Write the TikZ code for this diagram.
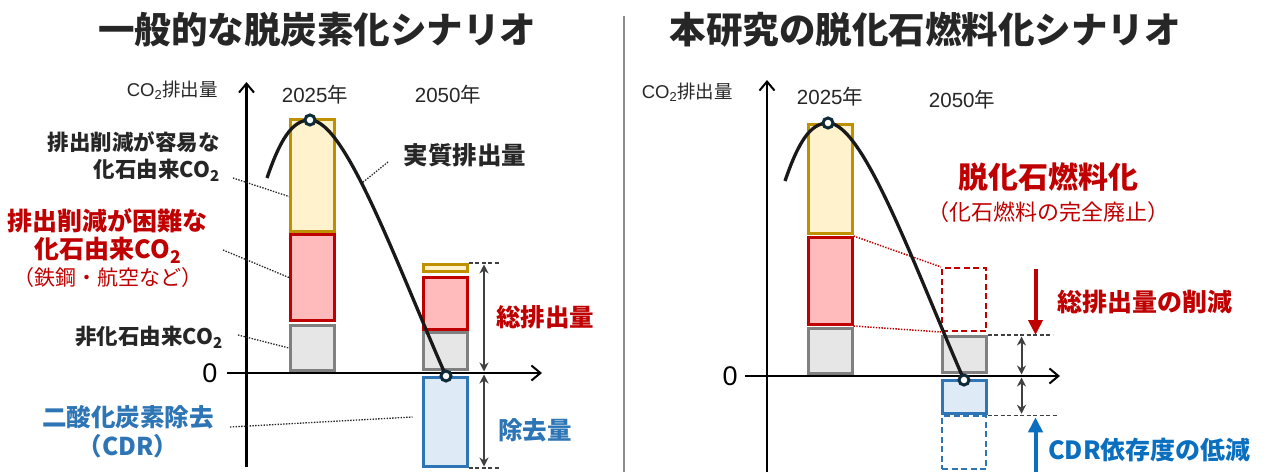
\documentclass[tikz,border=0pt]{standalone}
\usepackage{fontspec}
\setmainfont{Noto Sans CJK JP}
\newfontfamily\latinfont{Liberation Sans}
\usetikzlibrary{arrows.meta}
\definecolor{easyline}{HTML}{BF9000}
\definecolor{easyfill}{HTML}{FFF2CC}
\definecolor{hardline}{HTML}{C00000}
\definecolor{hardfill}{HTML}{FFBBBB}
\definecolor{nonfosline}{HTML}{808080}
\definecolor{nonfosfill}{HTML}{E6E6E6}
\definecolor{cdrline}{HTML}{2E75B6}
\definecolor{cdrfill}{HTML}{DEEBF7}
\definecolor{cdrblue}{HTML}{0B6FBF}
\definecolor{inktext}{HTML}{262626}
\definecolor{markline}{HTML}{0E2B3A}
\definecolor{spangray}{HTML}{404040}
\tikzset{x=1pt, y=-1pt,
    bar/.style={
        draw,
        line width=3pt,
        minimum width=44pt,
        inner sep=0pt},
    easybar/.style={bar, draw=easyline, fill=easyfill},
    hardbar/.style={bar, draw=hardline, fill=hardfill},
    nonfosbar/.style={bar, draw=nonfosline, fill=nonfosfill},
    cdrbar/.style={bar, draw=cdrline, fill=cdrfill},
    cutbar/.style={bar, line width=2pt, dash pattern=on 6pt off 3.5pt},
    axis/.style={
        line width=2.5pt,
        -{Straight Barb[length=9pt,width=15pt,line width=2pt]}},
    netline/.style={line width=3.3pt, black!90},
    dot/.style={
        circle,
        draw=markline,
        fill=white,
        line width=3pt,
        minimum size=10pt,
        inner sep=0pt},
    leader/.style={inktext, line width=1.3pt, dash pattern=on 1.4pt off 1.4pt},
    guide/.style={spangray, line width=1.4pt, dash pattern=on 4pt off 2.5pt},
    span/.style={
        spangray,
        line width=2pt,
        {Stealth[length=9pt,width=9pt]}-{Stealth[length=9pt,width=9pt]},
        shorten <=1.5pt, shorten >=1.5pt},
    cutarrow/.style={line width=4pt, -{Triangle[length=15pt,width=14pt]}},
    divider/.style={black!45, line width=2pt},
    txt/.style={inner sep=0pt, text=inktext},
    title/.style={txt, font=\fontsize{36.5}{40}\selectfont\bfseries},
    unitlbl/.style={txt, font=\fontsize{18.5}{22}\selectfont},
    yearlbl/.style={txt, font=\fontsize{20.5}{24}\selectfont},
    zerolbl/.style={txt, text=black, font=\fontsize{27}{30}\selectfont},
    darklbl/.style={txt, font=\fontsize{21.5}{27}\selectfont\bfseries},
    netlbl/.style={txt, font=\fontsize{24.5}{30}\selectfont\bfseries},
    hardlbl/.style={txt, text=hardline, align=center, font=\fontsize{25}{28}\selectfont\bfseries},
    hardnote/.style={txt, text=hardline, font=\fontsize{21}{26}\selectfont},
    cdrlbl/.style={txt, text=cdrline, align=center, font=\fontsize{24.5}{29}\selectfont\bfseries},
    redlbl/.style={txt, text=hardline, font=\fontsize{24.5}{30}\selectfont\bfseries},
    bluelbl/.style={txt, text=cdrblue, font=\fontsize{25}{30}\selectfont\bfseries},
    redbig/.style={txt, text=hardline, font=\fontsize{30}{36}\selectfont\bfseries},
    rednote/.style={txt, text=hardline, font=\fontsize{22}{26}\selectfont}}

\begin{document}
\begin{tikzpicture}
    \useasboundingbox[fill=white] (0,0) rectangle (1269,472);

    % titles
    \node[title] (ltitle) at (317,30) {一般的な脱炭素化シナリオ};
    \node[title] (rtitle) at (925,30) {本研究の脱化石燃料化シナリオ};
    \draw[divider] (624,16) -- (624,472);

    % ---- left: general scenario ----
    \coordinate (lo) at (246.5,373);
    \draw[axis] (227,373) -- (542,373);
    \draw[axis] (246.5,467) -- (246.5,82);
    \node[zerolbl] (lzero) at (210,373) {\latinfont 0};
    \node[unitlbl, anchor=east] (lunit) at (218,90) {{\latinfont CO\textsubscript{2}}排出量};
    \node[yearlbl] (lyearold) at (315,95) {{\latinfont 2025}年};
    \node[yearlbl] (lyearnew) at (448,95) {{\latinfont 2050}年};

    \node[easybar, minimum height=112] (oldeasy) at (312.5,175.5) {};
    \node[hardbar, minimum height=86] (oldhard) at (312.5,277.5) {};
    \node[nonfosbar, minimum height=45] (oldnonfos) at (312.5,348) {};
    \node[easybar, minimum height=7] (neweasy) at (445,268) {};
    \node[hardbar, minimum height=52] (newhard) at (445,303.5) {};
    \node[nonfosbar, minimum height=36.5] (newnonfos) at (445,351) {};
    \node[cdrbar, minimum height=89] (newcdr) at (445,422) {};

    \draw[guide] (neweasy.north east) -- ++(30,0);
    \draw[guide] (newcdr.south east) -- ++(30,0);
    \coordinate (lspan) at ([xshift=15.5pt]neweasy.north east);
    \draw[span] (lspan) -- (lspan |- lo);
    \draw[span] (lspan |- lo) -- (lspan |- newcdr.south);

    \coordinate (lstart) at (267,178);
    \coordinate (lpeak) at (310,120);
    \coordinate (lend) at (446,376);
    \draw[netline] (lstart) .. controls (280,140) and (292,120) .. (lpeak)
        .. controls (345,120) and (395,260) .. (lend);
    \node[dot] (lpeakdot) at (lpeak) {};
    \node[dot] (lenddot) at (lend) {};

    \node[darklbl, align=right, anchor=east] (easylbl) at (220,157) {排出削減が容易な\\化石由来CO\textsubscript{2}};
    \node[hardlbl] (hardlbl) at (108,236) {排出削減が困難な\\化石由来CO\textsubscript{2}};
    \node[hardnote] (hardnote) at (108,278) {（鉄鋼・航空など）};
    \node[darklbl, anchor=east] (nonfoslbl) at (223,337) {非化石由来CO\textsubscript{2}};
    \node[cdrlbl] (cdrlbl) at (128,432) {二酸化炭素除去\\（CDR）};
    \node[netlbl] (netlbl) at (465,155) {実質排出量};
    \node[redlbl] (totallbl) at (545,317) {総排出量};
    \node[redlbl, text=cdrline] (removelbl) at (535,430) {除去量};

    \coordinate (easytail) at (233,178);
    \coordinate (hardtail) at (223,250);
    \coordinate (nonfostail) at (238,335);
    \coordinate (cdrtail) at (230,427);
    \coordinate (nettail) at (388,162);
    \coordinate (netmeet) at (362,183);
    \draw[leader] (easytail) -- ([yshift=-21pt]oldeasy.west);
    \draw[leader] (hardtail) -- (oldhard.west);
    \draw[leader] (nonfostail) -- (oldnonfos.west);
    \draw[leader] (cdrtail) -- ([shift={(-9pt,5pt)}]newcdr.west);
    \draw[leader] (nettail) -- (netmeet);

    % ---- right: this study ----
    \coordinate (ro) at (767,376);
    \draw[axis] (745,376) -- (1060,376);
    \draw[axis] (767,472) -- (767,80);
    \node[zerolbl] (rzero) at (730,376) {\latinfont 0};
    \node[unitlbl, anchor=east] (runit) at (733,92) {{\latinfont CO\textsubscript{2}}排出量};
    \node[yearlbl] (ryearold) at (830,97) {{\latinfont 2025}年};
    \node[yearlbl] (ryearnew) at (962,100) {{\latinfont 2050}年};

    \node[easybar, minimum height=109] (rateasy) at (830,179) {};
    \node[hardbar, minimum height=87] (rathard) at (830,281) {};
    \node[nonfosbar, minimum height=45] (ratnonfos) at (830,351) {};
    \node[cutbar, draw=hardline, minimum height=63] (cuthard) at (964,299.5) {};
    \node[nonfosbar, minimum height=36] (remnonfos) at (964,354.5) {};
    \node[cdrbar, minimum height=33.5] (remcdr) at (964,397) {};
    \node[cutbar, draw=cdrline, minimum height=53] (cutcdr) at (964,442.5) {};

    \draw[hardline, line width=1.5pt, dash pattern=on 1.4pt off 1.4pt] (rathard.north east) -- (cuthard.north west);
    \draw[hardline, line width=1.5pt, dash pattern=on 1.4pt off 1.4pt] (rathard.south east) -- (cuthard.south west);

    \draw[guide] (remnonfos.north east) -- ++(65,0);
    \draw[guide] (remcdr.south east) -- ++(70,0);
    \coordinate (rspan) at ([xshift=34pt]remnonfos.north east);
    \draw[span] (rspan) -- (rspan |- ro);
    \draw[span] (rspan |- ro) -- (rspan |- remcdr.south);

    \coordinate (rcut) at ([xshift=48pt]remnonfos.north east);
    \draw[cutarrow, hardline] ([yshift=66pt]rcut) -- (rcut);
    \draw[cutarrow, cdrblue, shorten >=2pt] (rcut |- 0,472) -- (rcut |- remcdr.south);

    \coordinate (rstart) at (785,181);
    \coordinate (rpeak) at (828,123);
    \coordinate (rend) at (964,380);
    \draw[netline] (rstart) .. controls (798,143) and (810,123) .. (rpeak)
        .. controls (863,123) and (913,263) .. (rend);
    \node[dot] (rpeakdot) at (rpeak) {};
    \node[dot] (renddot) at (rend) {};

    \node[redbig] (defoslbl) at (1048,177) {脱化石燃料化};
    \node[rednote] (defosnote) at (1048,212) {（化石燃料の完全廃止）};
    \node[redlbl, font=\fontsize{25}{30}\selectfont\bfseries, anchor=west] (cutlbl) at (1057,302) {総排出量の削減};
    \node[bluelbl, anchor=west] (cdrcutlbl) at (1048,450) {CDR依存度の低減};
\end{tikzpicture}
\end{document}
